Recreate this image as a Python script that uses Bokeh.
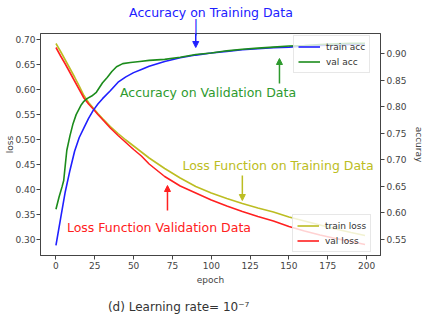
from bokeh.plotting import figure
from bokeh.models import (Range1d, LinearAxis, FixedTicker, PrintfTickFormatter,
                          Legend, LegendItem, Label, Arrow, NormalHead)
from bokeh.embed import file_html
from bokeh.resources import INLINE

# ---- data ----
epochs = [0, 3, 6, 9, 12, 15, 18, 21, 24, 27, 30, 35, 40, 45, 50, 55, 60, 70, 80,
          90, 100, 110, 120, 130, 140, 150, 160, 170, 180, 190, 199]
train_loss = [0.692, 0.676, 0.659, 0.642, 0.625, 0.607, 0.588, 0.574, 0.563, 0.552,
              0.542, 0.526, 0.512, 0.499, 0.487, 0.475, 0.463, 0.442, 0.423, 0.406,
              0.393, 0.382, 0.372, 0.363, 0.355, 0.345, 0.337, 0.329, 0.321, 0.314, 0.308]
val_loss = [0.684, 0.667, 0.651, 0.634, 0.617, 0.600, 0.583, 0.571, 0.561, 0.550,
            0.540, 0.523, 0.508, 0.494, 0.480, 0.467, 0.451, 0.426, 0.407, 0.393,
            0.379, 0.367, 0.356, 0.346, 0.337, 0.326, 0.317, 0.309, 0.302, 0.296, 0.290]
train_acc = [0.539, 0.590, 0.640, 0.680, 0.716, 0.742, 0.760, 0.778, 0.793, 0.805,
             0.815, 0.830, 0.846, 0.856, 0.864, 0.870, 0.876, 0.885, 0.892, 0.897,
             0.901, 0.904, 0.907, 0.909, 0.911, 0.912, 0.914, 0.915, 0.916, 0.917, 0.918]
val_epochs = [0, 2, 4, 5, 6, 7, 9, 11, 13, 16, 18, 20, 23, 26, 30, 33, 36, 39, 43, 48,
              54, 60, 70, 80, 90, 100, 110, 120, 130, 140, 150, 160, 170, 180, 190, 199]
val_acc = [0.607, 0.630, 0.650, 0.661, 0.690, 0.718, 0.745, 0.768, 0.785, 0.802,
           0.810, 0.815, 0.820, 0.827, 0.845, 0.855, 0.866, 0.875, 0.881, 0.883,
           0.885, 0.887, 0.889, 0.893, 0.898, 0.901, 0.905, 0.908, 0.910, 0.912,
           0.914, 0.915, 0.917, 0.918, 0.919, 0.919]

x_ticks = [0, 25, 50, 75, 100, 125, 150, 175, 200]
loss_ticks = [0.30, 0.35, 0.40, 0.45, 0.50, 0.55, 0.60, 0.65, 0.70]
acc_ticks = [0.55, 0.60, 0.65, 0.70, 0.75, 0.80, 0.85, 0.90]

BLUE = "#2020ff"
GREEN = "#1c8c1c"
RED = "#ff2020"
OLIVE = "#bcbd22"
FONT = "DejaVu Sans"
AX = "#444444"

p = figure(width=427, height=314, output_backend="svg", toolbar_location=None,
           x_range=Range1d(-9.95, 208.95), y_range=Range1d(0.268, 0.712),
           min_border_left=40, min_border_right=47, min_border_top=33,
           min_border_bottom=59)
p.extra_y_ranges = {"acc": Range1d(0.520, 0.9376)}
p.grid.visible = False
p.outline_line_color = AX
p.background_fill_color = "white"
p.border_fill_color = "white"

right = LinearAxis(y_range_name="acc")
p.add_layout(right, "right")

p.xaxis.ticker = FixedTicker(ticks=x_ticks)
p.yaxis[0].ticker = FixedTicker(ticks=loss_ticks)
right.ticker = FixedTicker(ticks=acc_ticks)
p.yaxis.formatter = PrintfTickFormatter(format="%.2f")
p.xaxis.axis_label = "epoch"
p.yaxis[0].axis_label = "loss"
right.axis_label = "accuray"

for ax in list(p.xaxis) + list(p.yaxis):
    ax.major_label_text_font = FONT
    ax.major_label_text_font_size = "9px"
    ax.major_label_text_color = AX
    ax.axis_label_text_font = FONT
    ax.axis_label_text_font_size = "9px"
    ax.axis_label_text_font_style = "normal"
    ax.axis_label_text_color = AX
    ax.axis_line_color = AX
    ax.major_tick_line_color = AX
    ax.major_tick_out = 4
    ax.major_tick_in = 0
    ax.minor_tick_line_color = None
    ax.major_label_standoff = 1
    ax.axis_label_standoff = 0
p.yaxis[0].axis_label_standoff = -3
right.axis_label_standoff = 4
right.major_label_standoff = 2
p.xaxis.axis_label_standoff = 3
p.xaxis.major_label_standoff = 2

r_tl = p.line(epochs, train_loss, color=OLIVE, line_width=1.6)
r_vl = p.line(epochs, val_loss, color=RED, line_width=1.6)
r_ta = p.line(epochs, train_acc, color=BLUE, line_width=1.6, y_range_name="acc")
r_va = p.line(val_epochs, val_acc, color=GREEN, line_width=1.6, y_range_name="acc")

def make_legend(items, loc):
    lg = Legend(items=items, location=loc, margin=0, padding=4, spacing=2,
                glyph_width=22, glyph_height=13, label_standoff=6,
                label_text_font=FONT, label_text_font_size="9px",
                label_text_color="#333333", label_height=13,
                border_line_color="#d0d0d0", background_fill_alpha=0.8)
    return lg

p.add_layout(make_legend([LegendItem(label="train acc", renderers=[r_ta]),
                          LegendItem(label="val acc", renderers=[r_va])], (253, 182)), "center")
p.add_layout(make_legend([LegendItem(label="train loss", renderers=[r_tl]),
                          LegendItem(label="val loss", renderers=[r_vl])], (252, 3)), "center")

def note(txt, x, y, color, size="12.5px", place="center"):
    lab = Label(x=x, y=y, text=txt, text_color=color, text_font=FONT,
                text_font_size=size, text_align="center", text_baseline="middle")
    if place == "center":
        p.add_layout(lab)
    else:
        p.add_layout(lab, place)

def arrow(x, y0, y1, color):
    p.add_layout(Arrow(x_start=x, y_start=y0, x_end=x, y_end=y1,
                       line_color=color, line_width=1.5,
                       end=NormalHead(size=6, fill_color=color, line_color=color)))

note("Accuracy on Training Data", 99.8, 0.754, BLUE, place="above")
note("\u2502", 90, 0.726, BLUE, size="14px", place="above")
arrow(90, 0.712, 0.684, BLUE)
note("Accuracy on Validation Data", 97.9, 0.594, "#2e9a2e")
arrow(143.9, 0.612, 0.662, "#2e9a2e")
note("Loss Function on Training Data", 143.0, 0.448, OLIVE)
arrow(120, 0.428, 0.378, OLIVE)
note("Loss Function Validation Data", 66.3, 0.324, RED)
arrow(71.8, 0.358, 0.408, RED)

note("(d)  Learning rate= 10\u207b\u2077", 80.2, 0.166, "#333333", size="12px", place="below")

open("out.html", "w").write(file_html(p, INLINE))
